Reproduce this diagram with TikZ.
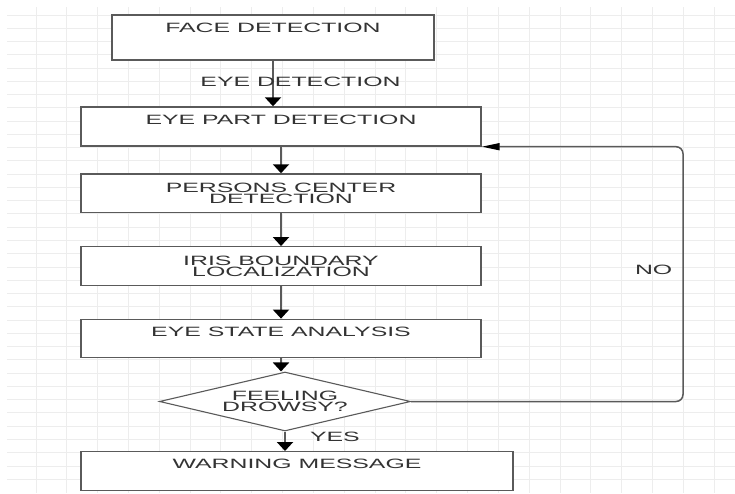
\documentclass[tikz,border=0pt]{standalone}
\usepackage{fontspec}
\newfontfamily\wf[FakeStretch=1.84]{Liberation Sans}
\usetikzlibrary{shapes.geometric,arrows.meta}
\definecolor{gridc}{HTML}{EDEDED}
\definecolor{txt}{HTML}{333333}
\definecolor{edge}{HTML}{5A5A5A}
\begin{document}
\begin{tikzpicture}[x=1pt,y=-1pt,
  every node/.style={font=\wf\fontsize{13.5}{10.7}\selectfont, text=txt},
  box/.style={draw=edge, line width=1.4pt, fill=white, rectangle, inner xsep=0pt, inner ysep=0pt},
  onebox/.style={box, text height=17pt},
  twobox/.style={box, align=center},
  flow/.style={draw=edge, line width=2pt, -{Triangle[width=16pt,length=9pt,color=black]}},
  back/.style={draw=edge, line width=1.5pt, rounded corners=7pt, -{Triangle[width=7pt,length=18pt,color=black]}},
  lbl/.style={inner sep=0pt}]
\path[use as bounding box, fill=white] (0,0) rectangle (735,493);
\foreach \i in {0,...,22} \draw[gridc, line width=1pt] ({36+30.83*\i},7) -- ({36+30.83*\i},493);
\foreach \j in {0,...,35} \draw[gridc, line width=1pt] (7,{15+13.266*\j}) -- (735,{15+13.266*\j});

\node[onebox, minimum width=322pt, text depth=28pt] (face) at (273,37.5) {FACE DETECTION};
\node[onebox, minimum width=400pt, text depth=22pt] (eyepart) at (281,126.5) {EYE PART DETECTION};
\node[twobox, minimum width=400pt, minimum height=38.5pt] (center) at (281,193.2) {PERSONS CENTER\\DETECTION};
\node[twobox, minimum width=400pt, minimum height=38.5pt] (iris) at (281,266) {IRIS BOUNDARY\\LOCALIZATION};
\node[onebox, minimum width=400pt, text depth=21.4pt] (state) at (281,338.5) {EYE STATE ANALYSIS};
\node[diamond, draw=edge, line width=1.1pt, fill=white, inner sep=0pt, aspect=4.25, minimum width=251pt, minimum height=59pt, align=center] (dia) at (285,401.5) {FEELING\\DROWSY?};
\node[onebox, minimum width=432pt, text depth=22pt] (warn) at (297,471.2) {WARNING MESSAGE};

\draw[flow] (face.south) -- node[lbl, pos=0.46, xshift=27.5pt]{EYE DETECTION} (face.south |- eyepart.north);
\draw[flow] (eyepart.south) -- (center.north);
\draw[flow] (center.south) -- (iris.north);
\draw[flow] (iris.south) -- (state.north);
\draw[flow] (state.south) -- (state.south |- dia.north);
\draw[flow] (dia.south) -- node[lbl, pos=0.25, anchor=west, xshift=24pt]{YES} (dia.south |- warn.north);
\coordinate (lx) at (683,0);
\draw[back] (dia.east) -- (dia.east -| lx) -- node[lbl, pos=0.515, anchor=east, xshift=-10pt]{NO} (lx |- eyepart.south east) -- (eyepart.south east);
\end{tikzpicture}
\end{document}
